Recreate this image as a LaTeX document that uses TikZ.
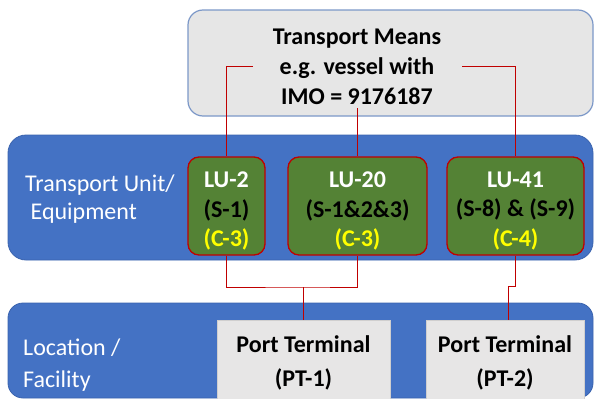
\documentclass[tikz,border=0pt]{standalone}
\usepackage{fontspec}
\setmainfont{Carlito}
\definecolor{bandblue}{HTML}{4472C4}
\definecolor{bandedge}{HTML}{3A63AE}
\definecolor{topfill}{HTML}{E6E6E6}
\definecolor{topedge}{HTML}{7C98C8}
\definecolor{lugreen}{HTML}{548235}
\definecolor{lured}{HTML}{C00000}
\definecolor{ptfill}{HTML}{E7E6E6}
\definecolor{ylw}{HTML}{FFFF00}
\begin{document}
\begin{tikzpicture}[x=1pt,y=-1pt,
  band/.style={fill=bandblue,draw=bandedge,line width=0.8pt,rounded corners=18pt},
  topbox/.style={fill=topfill,draw=topedge,line width=1.2pt,rounded corners=15pt,
    minimum width=405pt,minimum height=106pt,inner sep=0pt},
  lubox/.style={fill=lugreen,draw=lured,line width=1.3pt,rounded corners=11pt,
    minimum height=98pt,inner sep=0pt},
  lutext/.style={align=center,inner sep=0pt,
    font=\fontsize{24}{29.5}\selectfont\bfseries},
  ptbox/.style={fill=ptfill,draw=ptfill!90!black,line width=0.4pt,
    minimum height=79pt,inner sep=0pt},
  pttext/.style={align=center,inner sep=0pt,
    font=\fontsize{24}{34}\selectfont\bfseries},
  lbl/.style={text=white,align=left,anchor=west,inner sep=0pt},
  link/.style={draw=lured,line width=1pt}]
\useasboundingbox (0,0) rectangle (595,399);
% bands
\node[band,minimum width=585pt,minimum height=125pt,inner sep=0pt] (bandA) at (300.5,197.5) {};
\node[band,minimum width=585pt,minimum height=95pt,inner sep=0pt,rounded corners=15pt] (bandB) at (300.5,350.5) {};
% top box
\node[topbox] (tm) at (390.5,63) {};
\node[align=center,inner sep=0pt,font=\fontsize{24}{30}\selectfont\bfseries] (tmtext) at (357,66.5) {Transport Means\\e.g. vessel with\\IMO = 9176187};
% labels
\node[lbl,font=\fontsize{24}{28}\selectfont] (tulbl) at (25,199) {Transport Unit/\\\ Equipment};
\node[lbl,font=\fontsize{24}{32}\selectfont] (lflbl) at (23,365) {Location /\\Facility};
% LU boxes
\node[lubox,minimum width=77pt] (lu2) at (226.5,206) {};
\node[lubox,minimum width=139pt] (lu20) at (357.5,206) {};
\node[lubox,minimum width=137pt] (lu41) at (515.5,206) {};
\node[lutext] (lu2t) at ([yshift=-5pt]lu2.center) {\textcolor{white}{LU-2}\\(S-1)\\\textcolor{ylw}{(C-3)}};
\node[lutext] (lu20t) at ([yshift=-5pt]lu20.center) {\textcolor{white}{LU-20}\\(S-1\&2\&3)\\\textcolor{ylw}{(C-3)}};
\node[lutext] (lu41t) at ([yshift=-5pt]lu41.center) {\textcolor{white}{LU-41}\\(S-8) \& (S-9)\\\textcolor{ylw}{(C-4)}};
% PT boxes
\node[ptbox,minimum width=173pt] (pt1) at (303.5,359.5) {};
\node[ptbox,minimum width=158pt] (pt2) at (505,359.5) {};
\node[pttext] (pt1t) at ([yshift=-3pt]pt1.center) {Port Terminal\\(PT-1)};
\node[pttext] (pt2t) at ([yshift=-3pt]pt2.center) {Port Terminal\\(PT-2)};
% connector points
\coordinate (tl) at (253,66);
\coordinate (tmid) at (357.5,108);
\coordinate (tr) at (462,66);
\coordinate (j1) at (303.5,287);
\coordinate (j2) at (508.5,286);
% connectors
\draw[link] (tl) -| (lu2.north);
\draw[link] (tmid) -- (tmid |- lu20.north);
\draw[link] (tr) -| (lu41.north);
\draw[link] (lu2.south) |- (j1) -| (lu20.south);
\draw[link] (j1) -- (j1 |- pt1.north);
\draw[link] (lu41.south) |- (j2) -- (j2 |- pt2.north);
\end{tikzpicture}
\end{document}
